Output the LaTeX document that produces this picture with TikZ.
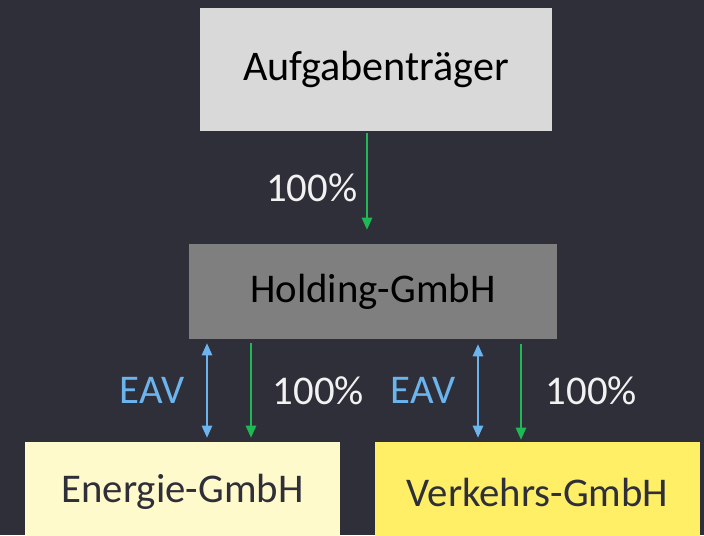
\documentclass[tikz,border=0pt]{standalone}
\usepackage{fontspec}
\setmainfont{Carlito}
\usetikzlibrary{arrows.meta,positioning,calc}
\definecolor{bgdark}{HTML}{2E2F38}
\definecolor{topfill}{HTML}{D9D9D9}
\definecolor{holdfill}{HTML}{7F7F7F}
\definecolor{energyfill}{HTML}{FFFACC}
\definecolor{trafficfill}{HTML}{FFEF66}
\definecolor{ownergreen}{HTML}{1DB954}
\definecolor{eavblue}{HTML}{6CB4EE}
\definecolor{labelwhite}{HTML}{F2F2F2}

\begin{document}
\begin{tikzpicture}[
  x=0.025cm, y=-0.025cm,
  entity/.style={inner sep=0pt, align=center, font=\fontsize{29}{34}\selectfont},
  own/.style={-{Triangle[length=0.3cm, width=0.26cm]}, line width=1.1pt, ownergreen},
  eav/.style={{Triangle[length=0.3cm, width=0.26cm]}-{Triangle[length=0.3cm, width=0.26cm]}, line width=1.1pt, eavblue},
  pct/.style={inner sep=0pt, font=\fontsize{29}{34}\selectfont, text=labelwhite},
  eavlbl/.style={inner sep=0pt, font=\fontsize{29}{34}\selectfont, text=eavblue}
]
  \fill[bgdark] (0,0) rectangle (704,535);
  \clip (0,0) rectangle (704,535);

  \node[entity, font=\fontsize{30}{35}\selectfont, fill=topfill, minimum width=8.8cm, minimum height=3.075cm] (traeger) at (376,69.5) {Aufgabenträger};
  \node[entity, fill=holdfill, minimum width=9.2cm, minimum height=2.375cm] (holding) at (373,291.5) {Holding-GmbH};
  \node[entity, fill=energyfill, text=bgdark, minimum width=7.875cm, minimum height=2.5cm] (energie) at (182.5,492) {Energie-GmbH};
  \node[entity, fill=trafficfill, text=bgdark, minimum width=8.125cm, minimum height=2.5cm] (verkehr) at (537.5,492) {Verkehrs-GmbH};

  % x positions of the connectors
  \coordinate (c0) at (367,0);
  \coordinate (c1) at (207,0);
  \coordinate (c2) at (251,0);
  \coordinate (c3) at (478,0);
  \coordinate (c4) at (521,0);

  \draw[own, shorten <=0.05cm, shorten >=0.35cm] (traeger.south -| c0) -- node[pct, left=0.225cm] (p0) {100\%} (holding.north -| c0);
  \draw[eav, shorten <=0.1cm, shorten >=0.1cm] (holding.south -| c1) -- node[eavlbl, left=0.55cm] (e1) {EAV} (energie.north -| c1);
  \draw[own, shorten <=0.1cm, shorten >=0.1cm] (holding.south -| c2) -- node[pct, right=0.525cm] (p1) {100\%} (energie.north -| c2);
  \draw[eav, shorten <=0.125cm, shorten >=0.1cm] (holding.south -| c3) -- node[eavlbl, left=0.55cm] (e2) {EAV} (verkehr.north -| c3);
  \draw[own, shorten <=0.125cm, shorten >=0.05cm] (holding.south -| c4) -- node[pct, right=0.6cm] (p2) {100\%} (verkehr.north -| c4);
\end{tikzpicture}
\end{document}
